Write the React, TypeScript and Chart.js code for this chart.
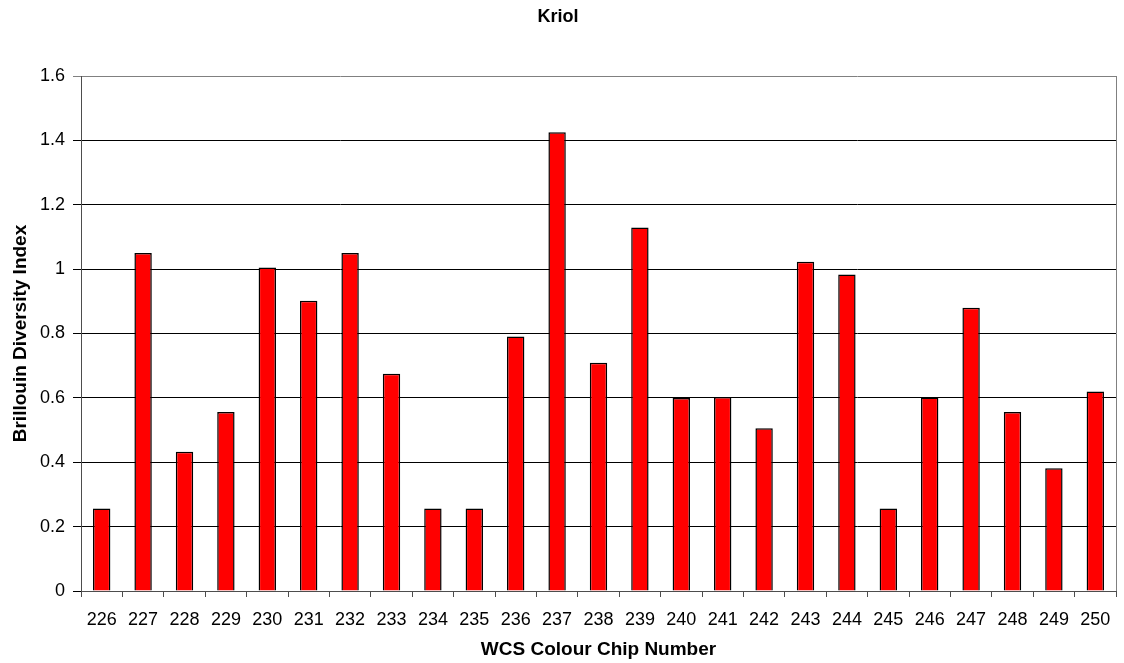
import React, { useEffect, useRef } from "react";
import { Chart, registerables } from "chart.js";

Chart.register(...registerables);

const chipNumbers: string[] = [
  "226", "227", "228", "229", "230", "231", "232", "233", "234", "235",
  "236", "237", "238", "239", "240", "241", "242", "243", "244", "245",
  "246", "247", "248", "249", "250",
];

const diversityValues: number[] = [
  0.256, 1.05, 0.433, 0.556, 1.005, 0.902, 1.05, 0.675, 0.256, 0.256,
  0.791, 1.425, 0.709, 1.129, 0.6, 0.603, 0.506, 1.023, 0.983, 0.256,
  0.601, 0.88, 0.556, 0.381, 0.62,
];

const yTickValues: number[] = [0, 0.2, 0.4, 0.6, 0.8, 1, 1.2, 1.4, 1.6];

const chartTitle = "Kriol";
const xAxisTitle = "WCS Colour Chip Number";
const yAxisTitle = "Brillouin Diversity Index";

const FONT = "'Liberation Sans', Arial, sans-serif";

const rightBorderPlugin = {
  id: "rightBorder",
  afterDraw(chart: any) {
    const { ctx, chartArea } = chart;
    ctx.save();
    ctx.strokeStyle = "#808080";
    ctx.lineWidth = 1;
    ctx.beginPath();
    const x = Math.round(chartArea.right) + 0.5;
    ctx.moveTo(x, chartArea.top);
    ctx.lineTo(x, chartArea.bottom);
    ctx.stroke();
    ctx.restore();
  },
};

export default function App() {
  const canvasRef = useRef<HTMLCanvasElement | null>(null);

  useEffect(() => {
    document.body.style.margin = "0";
    const canvas = canvasRef.current;
    if (!canvas) return;
    const chart = new Chart(canvas, {
      type: "bar",
      data: {
        labels: chipNumbers,
        datasets: [
          {
            data: diversityValues,
            backgroundColor: "#ff0000",
            borderColor: "#000000",
            borderWidth: 1.5,
            barPercentage: 0.42,
            categoryPercentage: 1,
          },
        ],
      },
      plugins: [rightBorderPlugin],
      options: {
        responsive: false,
        animation: false,
        layout: { padding: { left: 0, right: 8, top: 0, bottom: 0 } },
        plugins: {
          legend: { display: false },
          tooltip: { enabled: false },
          title: {
            display: true,
            text: chartTitle,
            color: "#000",
            font: { family: FONT, size: 18, weight: "bold" },
            padding: { top: 6, bottom: 48.4 },
          },
        },
        scales: {
          x: {
            offset: true,
            grid: {
              offset: true,
              drawOnChartArea: false,
              drawTicks: true,
              tickLength: 6,
              color: "#4d4d4d",
            },
            border: { color: "#4d4d4d", width: 1 },
            ticks: {
              color: "#000",
              font: { family: FONT, size: 18 },
              padding: 12,
              maxRotation: 0,
              autoSkip: false,
            },
            title: {
              display: true,
              text: xAxisTitle,
              color: "#000",
              font: { family: FONT, size: 19, weight: "bold" },
              padding: { top: 0, bottom: 2 },
            },
            afterFit(scale: any) {
              scale.height = 72;
            },
          },
          y: {
            min: 0,
            max: 1.6,
            afterBuildTicks(scale: any) {
              scale.ticks = yTickValues.map((v) => ({ value: v }));
            },
            grid: {
              color: (ctx: any) =>
                ctx.tick && ctx.tick.value === 1.6 ? "#808080" : "#000000",
              lineWidth: 1,
              tickLength: 8,
              drawTicks: true,
            },
            border: { color: "#4d4d4d", width: 1 },
            ticks: {
              color: "#000",
              font: { family: FONT, size: 18 },
              padding: 8,
              callback: (v: any) => String(Number(Number(v).toFixed(1))),
            },
            title: {
              display: true,
              text: yAxisTitle,
              color: "#000",
              font: { family: FONT, size: 19, weight: "bold" },
              padding: { top: 9, bottom: 0 },
            },
            afterFit(scale: any) {
              scale.width = 81;
            },
          },
        },
      },
    });
    return () => {
      chart.destroy();
    };
  }, []);

  return (
    <div style={{ width: 1124, height: 663, background: "#fff" }}>
      <canvas
        ref={canvasRef}
        width={1124}
        height={663}
        style={{ display: "block", width: 1124, height: 663 }}
      />
    </div>
  );
}
